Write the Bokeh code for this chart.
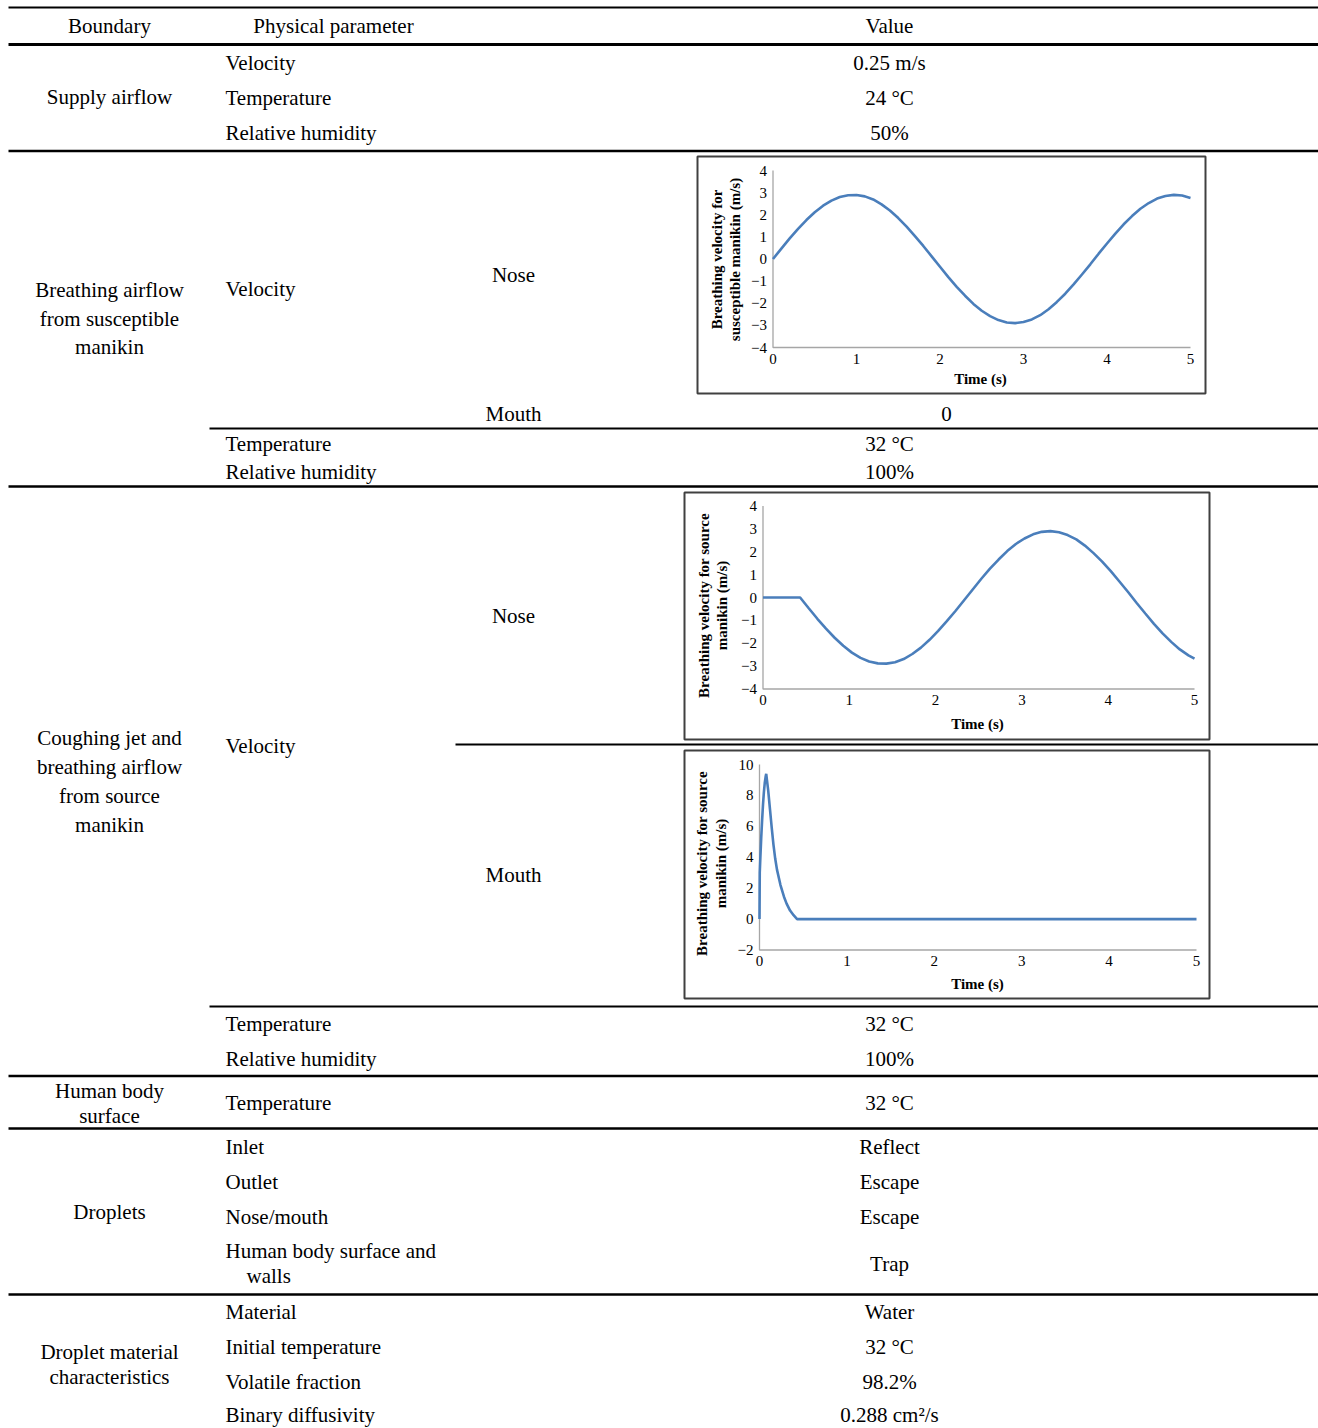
from bokeh.plotting import figure
from bokeh.models import Range1d
from bokeh.core.properties import value
from bokeh.embed import file_html
from bokeh.resources import INLINE

# ---------------- table content ----------------
header_texts = ["Boundary", "Physical parameter", "Value"]

boundary_labels = ["Supply airflow",
                   "Breathing airflow", "from susceptible", "manikin",
                   "Coughing jet and", "breathing airflow", "from source", "manikin",
                   "Human body", "surface",
                   "Droplets",
                   "Droplet material", "characteristics"]

parameter_labels = ["Velocity", "Temperature", "Relative humidity",
                    "Velocity", "Temperature", "Relative humidity",
                    "Velocity", "Temperature", "Relative humidity",
                    "Temperature",
                    "Inlet", "Outlet", "Nose/mouth", "Human body surface and", "walls",
                    "Material", "Initial temperature", "Volatile fraction", "Binary diffusivity"]

location_labels = ["Nose", "Mouth", "Nose", "Mouth"]

value_labels = ["0.25 m/s", "24 °C", "50%",
                "0", "32 °C", "100%",
                "32 °C", "100%",
                "32 °C",
                "Reflect", "Escape", "Escape", "Trap",
                "Water", "32 °C", "98.2%", "0.288 cm²/s"]

# ---------------- chart data ----------------
time_ticks = [0, 1, 2, 3, 4, 5]
time_tick_labels = ["0", "1", "2", "3", "4", "5"]
time_title = "Time (s)"

# Breathing velocity, susceptible manikin (nose)
c1_t = [0.0, 0.1, 0.2, 0.3, 0.4, 0.5, 0.6, 0.7, 0.8, 0.9, 1.0, 1.1, 1.2, 1.3, 1.4, 1.5, 1.6,
        1.7, 1.8, 1.9, 2.0, 2.1, 2.2, 2.3, 2.4, 2.5, 2.6, 2.7, 2.8, 2.9, 3.0, 3.1, 3.2, 3.3,
        3.4, 3.5, 3.6, 3.7, 3.8, 3.9, 4.0, 4.1, 4.2, 4.3, 4.4, 4.5, 4.6, 4.7, 4.8, 4.9, 5.0]
c1_v = [0.0, 0.47, 0.93, 1.36, 1.76, 2.11, 2.41, 2.64, 2.80, 2.88, 2.89, 2.83, 2.69, 2.47,
        2.19, 1.85, 1.46, 1.03, 0.59, 0.12, -0.35, -0.82, -1.26, -1.66, -2.03, -2.34, -2.58,
        -2.76, -2.87, -2.90, -2.85, -2.73, -2.54, -2.27, -1.94, -1.57, -1.15, -0.70, -0.24,
        0.24, 0.70, 1.15, 1.57, 1.94, 2.27, 2.53, 2.73, 2.85, 2.90, 2.87, 2.76]
c1_yticks = [-4, -3, -2, -1, 0, 1, 2, 3, 4]
c1_ylabels = ["\u22124", "\u22123", "\u22122", "\u22121", "0", "1", "2", "3", "4"]
c1_title = ["Breathing velocity for", "susceptible manikin (m/s)"]

# Breathing velocity, source manikin (nose)
c2_t = [0.0, 0.43, 0.53, 0.63, 0.73, 0.83, 0.93, 1.03, 1.13, 1.23, 1.33, 1.43, 1.53, 1.63,
        1.73, 1.83, 1.93, 2.03, 2.13, 2.23, 2.33, 2.43, 2.53, 2.63, 2.73, 2.83, 2.93, 3.03,
        3.13, 3.23, 3.33, 3.43, 3.53, 3.63, 3.73, 3.83, 3.93, 4.03, 4.13, 4.23, 4.33, 4.43,
        4.53, 4.63, 4.73, 4.83, 4.93, 5.0]
c2_v = [0.0, 0.0, -0.47, -0.93, -1.36, -1.76, -2.11, -2.41, -2.64, -2.80, -2.88, -2.89,
        -2.83, -2.69, -2.47, -2.19, -1.85, -1.46, -1.03, -0.59, -0.12, 0.35, 0.82, 1.26, 1.66,
        2.03, 2.34, 2.58, 2.76, 2.87, 2.90, 2.85, 2.73, 2.54, 2.27, 1.94, 1.57, 1.15, 0.70,
        0.24, -0.24, -0.70, -1.15, -1.57, -1.94, -2.27, -2.53, -2.67]
c2_yticks = [-4, -3, -2, -1, 0, 1, 2, 3, 4]
c2_ylabels = ["\u22124", "\u22123", "\u22122", "\u22121", "0", "1", "2", "3", "4"]
c2_title = ["Breathing velocity for source", "manikin (m/s)"]

# Coughing jet velocity, source manikin (mouth)
c3_t = [0.0, 0.003, 0.01, 0.02, 0.03, 0.04, 0.05, 0.06, 0.07, 0.077, 0.085, 0.10, 0.12,
        0.14, 0.16, 0.18, 0.20, 0.24, 0.28, 0.31, 0.35, 0.39, 0.43, 5.0]
c3_v = [0.0, 3.0, 4.0, 5.3, 6.4, 7.4, 8.2, 8.8, 9.2, 9.4, 9.0, 8.3, 7.1, 5.9, 4.8, 3.9,
        3.2, 2.2, 1.45, 1.0, 0.55, 0.25, 0.0, 0.0]
c3_yticks = [-2, 0, 2, 4, 6, 8, 10]
c3_ylabels = ["\u22122", "0", "2", "4", "6", "8", "10"]
c3_title = ["Breathing velocity for source", "manikin (m/s)"]

# ---------------- layout (image pixel coordinates) ----------------
FX0, FX1 = 0, 1318
FY0, FY1 = 0, 1428
SERIF = value("Liberation Serif")
BODY_SIZE = "21px"

header_x = [109, 333, 889]
header_y = [25, 25, 25]
boundary_x = [109] * len(boundary_labels)
boundary_y = [96, 289, 318, 346, 737, 766, 795, 824, 1090, 1115, 1211, 1351, 1376]
parameter_x = [225] * 14 + [246] + [225] * 4
parameter_y = [62, 97, 132, 288, 443, 471, 745, 1023, 1058, 1102,
               1146, 1181, 1216, 1250, 1275, 1311, 1346, 1381, 1414]
location_x = [513] * 4
location_y = [274, 413, 615, 874]
value_x = [889] * 3 + [946] + [889] * 13
value_y = [62, 97, 132, 413, 443, 471, 1023, 1058, 1102,
           1146, 1181, 1216, 1263, 1311, 1346, 1381, 1414]

rules = [  # y, x0, x1, width
    (7, 8, 1318, 2), (44, 8, 1318, 3), (150.5, 8, 1318, 2.5), (428, 209, 1318, 2),
    (486, 8, 1318, 2.5), (744, 455, 1318, 2), (1006, 209, 1318, 2),
    (1075.5, 8, 1318, 2.5), (1128, 8, 1318, 2.5), (1294, 8, 1318, 2.5)]

p = figure(width=FX1 - FX0, height=FY1 - FY0, output_backend="svg", toolbar_location=None,
           x_range=Range1d(FX0, FX1), y_range=Range1d(FY1, FY0), min_border=0,
           background_fill_color="white", border_fill_color="white")
p.axis.visible = False
p.grid.visible = False
p.outline_line_color = None

for (yy, xa, xb, w) in rules:
    p.segment(x0=[xa], y0=[yy], x1=[xb], y1=[yy], line_color="black", line_width=w)


def txt(xs, ys, texts, align):
    p.text(x=xs, y=ys, text=texts, text_font=SERIF, text_font_size=BODY_SIZE,
           text_align=align, text_baseline="middle", text_color="black")


txt(header_x, header_y, header_texts, "center")
txt(boundary_x, boundary_y, boundary_labels, "center")
txt(parameter_x, parameter_y, parameter_labels, "left")
txt(location_x, location_y, location_labels, "center")
txt(value_x, value_y, value_labels, "center")

LINE_BLUE = "#4a7ebb"
AXIS_GRAY = "#a6a6a6"
extra_x, extra_y = {}, {}


def draw_chart(key, t, v, yticks, ylabels, title_lines, box, px, py, title_xs, title_cy, time_xy):
    left, top, right, bottom = box
    p.quad(left=[left], right=[right], top=[top], bottom=[bottom], fill_color="white",
           line_color="#404040", line_width=2)
    px0, px1 = px
    py0, py1 = py
    x0, x1 = time_ticks[0], time_ticks[-1]
    y0, y1 = yticks[0], yticks[-1]
    kx = (x1 - x0) / (px1 - px0)
    ky = (y1 - y0) / (py0 - py1)
    extra_x[key] = Range1d(x0 - (px0 - FX0) * kx, x0 + (FX1 - px0) * kx)
    extra_y[key] = Range1d(y0 - (FY1 - py0) * ky, y0 + (py0 - FY0) * ky)
    kw = dict(x_range_name=key, y_range_name=key)
    p.line(x=[x0, x0, x1], y=[y1, y0, y0], line_color=AXIS_GRAY, line_width=1.3, **kw)
    p.line(x=t, y=v, line_color=LINE_BLUE, line_width=2.6, **kw)
    p.text(x=[x0] * len(yticks), y=yticks, text=ylabels, x_offset=-6, text_align="right",
           text_baseline="middle", text_font=SERIF, text_font_size="15px", **kw)
    p.text(x=time_ticks, y=[y0] * len(time_ticks), text=time_tick_labels, y_offset=6,
           text_align="center", text_baseline="top", text_font=SERIF,
           text_font_size="15px", **kw)
    p.text(x=[time_xy[0]], y=[time_xy[1]], text=[time_title], text_align="center",
           text_baseline="middle", text_font=SERIF, text_font_size="15px",
           text_font_style="bold")
    p.text(x=title_xs, y=[title_cy] * len(title_lines), text=title_lines, angle=1.5707963,
           text_align="center", text_baseline="middle", text_font=SERIF,
           text_font_size="15px", text_font_style="bold")


draw_chart("c1", c1_t, c1_v, c1_yticks, c1_ylabels, c1_title,
           box=(697, 156, 1205, 393), px=(772.5, 1190), py=(347, 170),
           title_xs=[716, 734], title_cy=259, time_xy=(980, 378))
draw_chart("c2", c2_t, c2_v, c2_yticks, c2_ylabels, c2_title,
           box=(684, 492, 1209, 739), px=(762.5, 1194), py=(688.5, 505.5),
           title_xs=[703, 721], title_cy=605, time_xy=(977, 723))
draw_chart("c3", c3_t, c3_v, c3_yticks, c3_ylabels, c3_title,
           box=(684, 750, 1209, 998), px=(759, 1196), py=(949.5, 764),
           title_xs=[701, 720], title_cy=863, time_xy=(977, 983))

p.extra_x_ranges = extra_x
p.extra_y_ranges = extra_y

open("out.html", "w").write(file_html(p, INLINE))
